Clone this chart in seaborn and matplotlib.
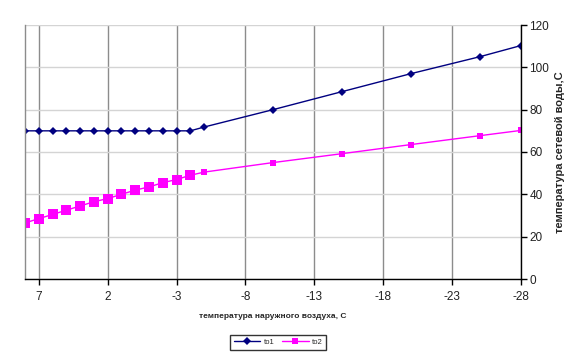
import numpy as np
import pandas as pd
import matplotlib
matplotlib.use("Agg")
import matplotlib.pyplot as plt
import seaborn as sns

# outdoor temperature, C
t_out = [8, 7, 6, 5, 4, 3, 2, 1, 0, -1, -2, -3, -4, -5, -10, -15, -20, -25, -28]
to1 = [70, 70, 70, 70, 70, 70, 70, 70, 70, 70, 70, 70, 70, 71.8, 80, 88.5, 97, 105, 110.3]
to2 = [26.5, 28.5, 30.5, 32.5, 34.5, 36.5, 38, 40, 42, 43.5, 45.5, 47, 49, 50.5, 55, 59.2, 63.5, 67.7, 70.2]
n_big = 13  # first points of to2 drawn with larger squares
x_ticks = [7, 2, -3, -8, -13, -18, -23, -28]

df = pd.DataFrame({"t": t_out * 2, "val": to1 + to2,
                   "series": ["to1"] * len(t_out) + ["to2"] * len(t_out)})

sns.set_style("white")
plt.rcParams["font.family"] = ["Liberation Sans", "DejaVu Sans"]
plt.rcParams["axes.unicode_minus"] = False

fig = plt.figure(figsize=(5.86, 3.6), dpi=100)
ax = fig.add_axes([25 / 586, 1 - 279 / 360, (521 - 25) / 586, (279 - 25) / 360])

pal = {"to1": "#000080", "to2": "#FF00FF"}
sns.lineplot(data=df, x="t", y="val", hue="series", style="series", palette=pal,
             markers={"to1": "D", "to2": "s"}, dashes=False, markersize=4,
             markeredgewidth=0, linewidth=1, sort=False, ax=ax, legend=True)
ax.plot(t_out[:n_big], to2[:n_big], linestyle="none", marker="s", markersize=7.5,
        color="#FF00FF", markeredgewidth=0)

ax.set_xlim(8, -28)
ax.set_ylim(0, 120)
ax.set_xticks(x_ticks)
ax.set_yticks(np.arange(0, 121, 20))
ax.grid(axis="y", color="#d4d4d4", linewidth=1)
ax.grid(axis="x", color="#8c8c8c", linewidth=1)
ax.set_axisbelow(True)

ax.yaxis.tick_right()
ax.yaxis.set_label_position("right")
ax.spines["top"].set_visible(False)
for s in ["left", "bottom", "right"]:
    ax.spines[s].set_color("black")
    ax.spines[s].set_linewidth(1)
ax.spines["left"].set_color("#8c8c8c")
ax.tick_params(axis="both", which="both", direction="out", length=4, width=1,
               color="black", labelsize=8.5, colors="#222222")
ax.tick_params(axis="y", right=True, left=False, pad=2)
ax.tick_params(axis="x", bottom=True, pad=5)

ax.set_xlabel("температура наружного воздуха, С", fontsize=6, fontweight="bold", labelpad=7)
ax.set_ylabel("температура сетевой воды,С", fontsize=8, fontweight="bold", labelpad=4)

leg = ax.legend(loc="upper center", bbox_to_anchor=(0.51, -0.205), ncol=2, fontsize=5.5,
                frameon=True, fancybox=False, edgecolor="black", handlelength=3.5,
                columnspacing=1.0, borderpad=0.5, handletextpad=0.4)
leg.get_frame().set_linewidth(1)

fig.savefig("out.png", dpi=100)
